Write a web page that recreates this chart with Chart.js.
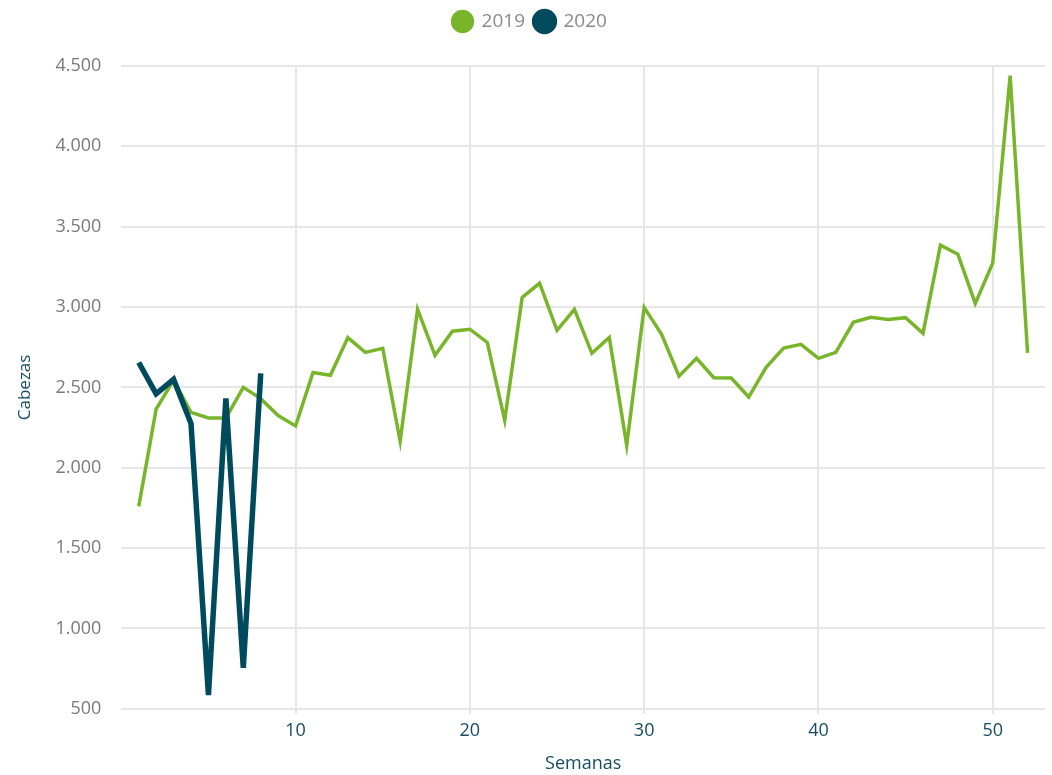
<!DOCTYPE html>
<html lang="es">
<head>
    <meta charset="UTF-8">
    <title>Cabezas por semana</title>
    <script src="https://cdn.jsdelivr.net/npm/chart.js"></script>
    <style>
        html, body {
            margin: 0;
            padding: 0;
            background: #ffffff;
        }
        .wrap {
            width: 1052px;
            height: 775px;
        }
    </style>
</head>
<body>
    <div class="wrap">
        <canvas id="chart"></canvas>
    </div>

    <script>
        // Semanas (eje x)
        var weeks2019 = [1, 2, 3, 4, 5, 6, 7, 8, 9, 10, 11, 12, 13, 14, 15, 16, 17, 18, 19, 20,
            21, 22, 23, 24, 25, 26, 27, 28, 29, 30, 31, 32, 33, 34, 35, 36, 37, 38, 39, 40,
            41, 42, 43, 44, 45, 46, 47, 48, 49, 50, 51, 52];
        var weeks2020 = [1, 2, 3, 4, 5, 6, 7, 8];

        // Cabezas por semana
        var cabezas2019 = [1760, 2365, 2545, 2345, 2310, 2310, 2500, 2430, 2325, 2260,
            2593, 2575, 2810, 2718, 2743, 2165, 2985, 2700, 2850, 2862,
            2780, 2295, 3060, 3148, 2855, 2986, 2712, 2811, 2140, 2998,
            2830, 2570, 2681, 2560, 2558, 2440, 2625, 2745, 2768, 2681,
            2718, 2905, 2936, 2922, 2934, 2836, 3385, 3329, 3023, 3273,
            4440, 2715];
        var cabezas2020 = [2655, 2460, 2550, 2275, 585, 2431, 755, 2587];

        var seriesLabels = ['2019', '2020'];
        var seriesColors = ['#78b52b', '#004a5e'];

        // y ticks: 500 .. 4.500
        var yMin = 500, yMax = 4500, yStep = 500;
        var xTicks = [10, 20, 30, 40, 50];

        function toPoints(xs, ys) {
            return xs.map(function (x, i) { return { x: x, y: ys[i] }; });
        }

        function fmtMiles(v) {
            return String(v).replace(/\B(?=(\d{3})+(?!\d))/g, '.');
        }

        // extra space below the legend
        var legendGap = {
            id: 'legendGap',
            beforeInit: function (chart) {
                var origFit = chart.legend.fit;
                chart.legend.fit = function () {
                    origFit.bind(chart.legend)();
                    this.height += 25;
                };
            }
        };

        var ctx = document.getElementById('chart').getContext('2d');
        var chart = new Chart(ctx, {
            type: 'line',
            data: {
                datasets: [
                    {
                        label: seriesLabels[0],
                        data: toPoints(weeks2019, cabezas2019),
                        borderColor: seriesColors[0],
                        backgroundColor: seriesColors[0],
                        borderWidth: 3.5,
                        pointRadius: 0,
                        pointHoverRadius: 0,
                        tension: 0,
                        order: 2
                    },
                    {
                        label: seriesLabels[1],
                        data: toPoints(weeks2020, cabezas2020),
                        borderColor: seriesColors[1],
                        backgroundColor: seriesColors[1],
                        borderWidth: 5.5,
                        pointRadius: 0,
                        pointHoverRadius: 0,
                        tension: 0,
                        order: 1
                    }
                ]
            },
            options: {
                responsive: true,
                maintainAspectRatio: false,
                animation: false,
                layout: {
                    padding: { left: 15, right: 7, top: 2, bottom: 0 }
                },
                plugins: {
                    tooltip: { enabled: false },
                    legend: {
                        position: 'top',
                        labels: {
                            usePointStyle: true,
                            pointStyle: 'circle',
                            boxHeight: 14,
                            padding: 10,
                            color: '#8a8a8a',
                            font: { family: 'Open Sans', size: 19 },
                            sort: function (a, b) { return a.datasetIndex - b.datasetIndex; }
                        }
                    }
                },
                scales: {
                    x: {
                        type: 'linear',
                        min: 0,
                        max: 53,
                        afterBuildTicks: function (axis) {
                            axis.ticks = xTicks.map(function (v) { return { value: v }; });
                        },
                        border: { display: false },
                        grid: {
                            color: '#e6e6e6',
                            lineWidth: 2,
                            tickLength: 5
                        },
                        ticks: {
                            color: '#174c60',
                            padding: 6,
                            font: { family: 'Open Sans', size: 18 }
                        },
                        title: {
                            display: true,
                            text: 'Semanas',
                            color: '#174c60',
                            padding: { top: 6, bottom: 0 },
                            font: { family: 'Open Sans', size: 18 }
                        }
                    },
                    y: {
                        min: yMin,
                        max: yMax,
                        border: { display: false },
                        grid: {
                            color: '#e6e6e6',
                            lineWidth: 2,
                            drawTicks: false
                        },
                        ticks: {
                            stepSize: yStep,
                            color: '#7a7a7a',
                            padding: 20,
                            font: { family: 'Open Sans', size: 18 },
                            callback: function (v) { return fmtMiles(v); }
                        },
                        title: {
                            display: true,
                            text: 'Cabezas',
                            color: '#174c60',
                            padding: { top: 0, bottom: 0 },
                            font: { family: 'Open Sans', size: 17 }
                        }
                    }
                }
            },
            plugins: [legendGap]
        });
    </script>
</body>
</html>
